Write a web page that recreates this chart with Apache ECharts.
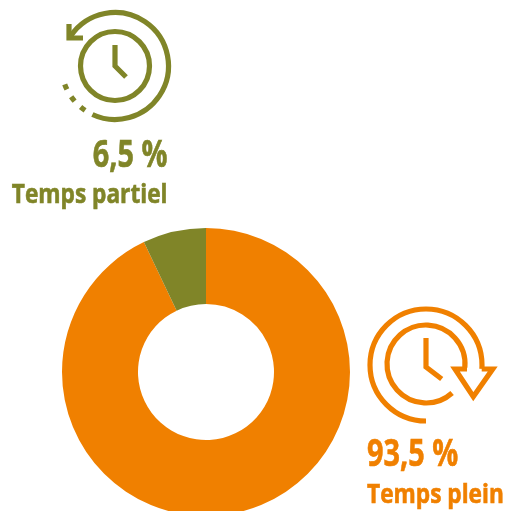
<!DOCTYPE html>
<html><head><meta charset="utf-8">
<style>html,body{margin:0;padding:0;background:#fff}#c{width:506px;height:511px}</style>
<script src="https://cdn.jsdelivr.net/npm/echarts@6/dist/echarts.min.js"></script></head>
<body><div id="c"></div>
<script>
const categories = ['Temps plein', 'Temps partiel'];
const shownLabels = ['93,5 %', '6,5 %'];
const sliceValues = [92.9, 7.1];
const ORANGE = '#f08000', OLIVE = '#808528';
const chart = echarts.init(document.getElementById('c'), null, {renderer:'canvas'});
const F = 'Open Sans';
const W = 5.2;
function txt(t, x, baseline, size, color, align, sx){
  return {type:'text', x, y:baseline - 0.75*size, scaleX:sx, originX:0, originY:0, silent:true,
    style:{text:t, x:0, y:0, fill:color, stroke:color, lineWidth:0.6, font:`bold ${size}px "${F}"`, align:align, verticalAlign:'top'}};
}
function line(points, color){
  return {type:'polyline', silent:true, shape:{points}, style:{stroke:color, fill:null, lineWidth:W, lineCap:'butt', lineJoin:'miter'}};
}
function arc(cx, cy, r, a0, a1, color){
  const d = Math.PI/180;
  return {type:'arc', silent:true, shape:{cx, cy, r, startAngle:a0*d, endAngle:a1*d, clockwise:true},
    style:{stroke:color, fill:null, lineWidth:W}};
}
chart.setOption({
  animation:false,
  backgroundColor:'#fff',
  series:[{
    type:'pie', center:[206,372], radius:[68,144], startAngle:90, clockwise:true,
    label:{show:false}, labelLine:{show:false}, silent:true,
    data:categories.map((n,i)=>({name:n, value:sliceValues[i], itemStyle:{color:[ORANGE,OLIVE][i]}}))
  }],
  graphic:[
    // olive icon
    arc(115,66,34.5,0,360,OLIVE),
    arc(115,66,53.5,-146,115,OLIVE),
    arc(115,66,53.5,124,130,OLIVE),
    arc(115,66,53.5,139,145,OLIVE),
    arc(115,66,53.5,154,160,OLIVE),
    line([[115,45],[115,66],[126,77]],OLIVE),
    line([[69,24],[69,38],[83,38]],OLIVE),
    // orange icon
    arc(426,364,39,48,365,ORANGE),
    arc(426,365,56,90,364,ORANGE),
    line([[426,338],[426,367],[441.7,379]],ORANGE),
    line([[467,369],[455,369],[473.3,396.7],[492.7,369],[481.7,369]],ORANGE),
    // texts
    txt(shownLabels[1],167.5,166,38,OLIVE,'right',0.76),
    txt(categories[1],167.5,202,27,OLIVE,'right',0.84),
    txt(shownLabels[0],367,465,38,ORANGE,'left',0.76),
    txt(categories[0],367,502,27,ORANGE,'left',0.84)
  ]
});
</script></body></html>
